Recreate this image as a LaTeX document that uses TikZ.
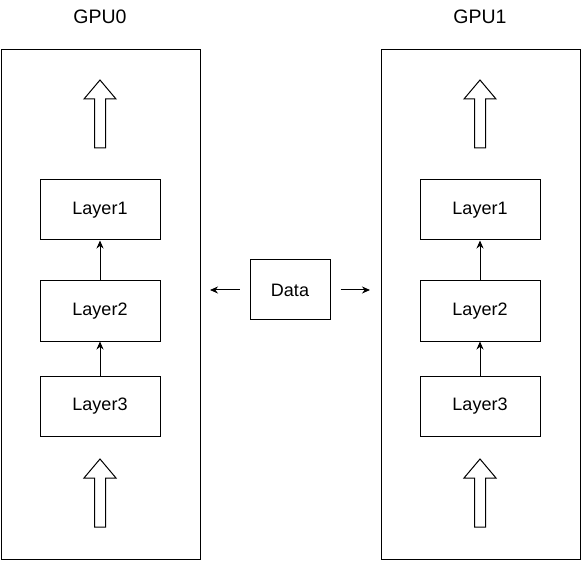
\documentclass[tikz,border=0pt]{standalone}
\usepackage{fontspec}
\setmainfont{Liberation Sans}
\usetikzlibrary{positioning,calc,arrows.meta}

\begin{document}
\begin{tikzpicture}[x=1pt,y=-1pt,line width=1pt,
    layerbox/.style={draw,minimum width=120pt,minimum height=60pt,font=\fontsize{18}{20}\selectfont},
    tip/.style={-{Stealth[length=8pt,width=7pt]}}]
    \useasboundingbox (0,0) rectangle (581,561);
    \foreach \g/\x in {0/0,1/380} {
        \draw (\x+1,50) rectangle (\x+200,559);
        \node[font=\fontsize{19.5}{22}\selectfont] (gpu\g) at (\x+100,17) {GPU\g};
        \node[layerbox] (lone\g) at (\x+100,210) {Layer1};
        \node[layerbox, below=40pt of lone\g] (ltwo\g) {Layer2};
        \node[layerbox, below=34pt of ltwo\g] (lthree\g) {Layer3};
        \draw[tip] (lthree\g) -- (ltwo\g);
        \draw[tip] (ltwo\g) -- (lone\g);
        \foreach \t in {80,459} \draw[fill=white] (\x+100,\t) -- ++(16,19) -- ++(-10.5,0) -- ++(0,49) -- ++(-11,0) -- ++(0,-49) -- ++(-10.5,0) -- cycle; % block arrows
    }
    \node[layerbox, minimum width=80pt] (data) at (290,290) {Data};
    \coordinate (dl) at (210,290); \coordinate (dr) at (370,290);
    \draw[tip, shorten <=10pt] (data) -- (dl);
    \draw[tip, shorten <=10pt] (data) -- (dr);
\end{tikzpicture}
\end{document}
